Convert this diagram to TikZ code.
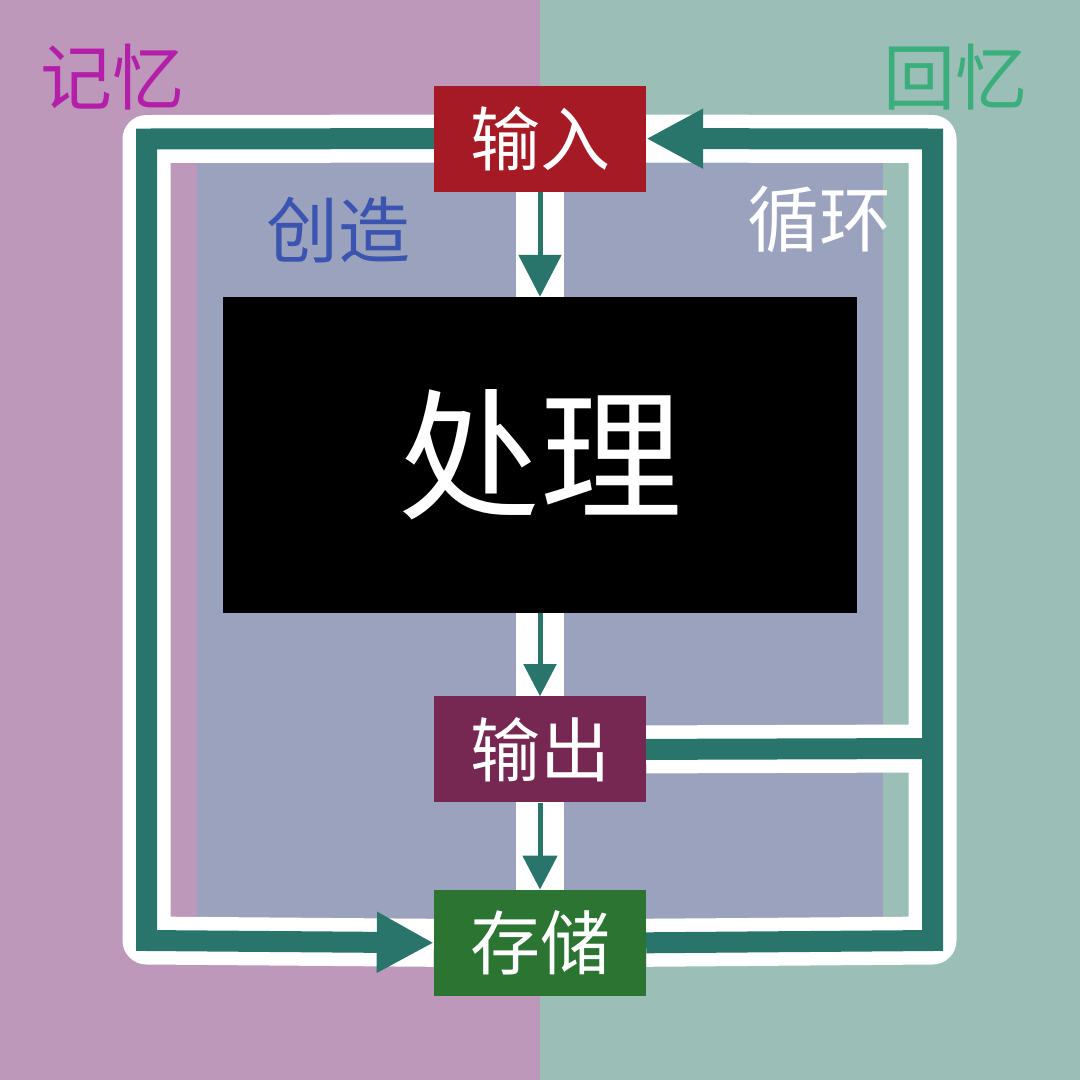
\documentclass[tikz,border=0pt]{standalone}
\usepackage{fontspec}
\newfontfamily\cjk{Noto Sans CJK SC}
\usepackage{tikz}
\usetikzlibrary{positioning}
\usetikzlibrary{arrows.meta}
\usetikzlibrary{backgrounds}
\usepackage{xcolor}
\definecolor{leftbg}{HTML}{BE98BA}
\definecolor{rightbg}{HTML}{9BBEB6}
\definecolor{innerbg}{HTML}{9BA2BE}
\definecolor{loopteal}{HTML}{29756C}
\definecolor{inred}{HTML}{A51A24}
\definecolor{outpurple}{HTML}{762852}
\definecolor{storegreen}{HTML}{2C7431}
\definecolor{memcol}{HTML}{B31FA8}
\definecolor{recallcol}{HTML}{3AAF7D}
\definecolor{createcol}{HTML}{3A54B0}

\begin{document}
\begin{tikzpicture}[x=1pt, y=-1pt,
	box/.style={minimum width=212pt, minimum height=106pt, inner sep=0pt, text=white, font={\cjk\fontsize{70pt}{70pt}\selectfont}},
	halo/.style={white, line width=48pt, line join=round},
	loopline/.style={loopteal, line width=21pt},
	flow/.style={loopteal, line width=5pt},
	tag/.style={inner sep=0pt, font={\cjk\fontsize{72pt}{72pt}\selectfont}}]
			    		\useasboundingbox (0,0) rectangle (1080,1080);
			    		\node[box, fill=black, minimum width=634pt, minimum height=316pt, font={\cjk\fontsize{142pt}{142pt}\selectfont}] (proc) at (540,455) {处理};
			    		\node[box, fill=inred, above=105pt of proc] (in) {输入};
			    		\node[box, fill=outpurple, below=83pt of proc] (out) {输出};
			    		\node[box, fill=storegreen, below=87pt of out] (store) {存储};
			    		\coordinate (tl) at (146.5,139);
			    		\coordinate (bl) at (146.5,940.5);
			    		\coordinate (tr) at (932.5,139);
			    		\coordinate (br) at (932.5,940.5);
			    		\coordinate (mr) at (932.5,748.5);
			    		\begin{scope}[on background layer]
			    			\fill[leftbg] (0,0) rectangle (540,1080);
			    			\fill[rightbg] (540,0) rectangle (1080,1080);
			    			\fill[innerbg] (197,163) rectangle (883,918);
			    			\draw[halo] (in.west) -- (tl) -- (bl) -- (store.west);
			    			\draw[halo] (store.east) -- (br) -- (tr) -- (in.east);
			    			\draw[halo] (out.east) -- (mr);
			    			\draw[halo] (in.south) -- (store.north);
			    		\end{scope}
			    		% loops
			    		\draw[loopline, -{Triangle[length=57pt, width=57pt]}] (in.west) -- (tl) -- (bl) -- (store.west);
			    		\draw[loopline, -{Triangle[length=57pt, width=56pt]}] (store.east) -- (br) -- (tr) -- (in.east);
			    		\draw[loopline] (out.east) -- (mr);
			    		% flow down the middle
			    		\draw[flow, -{Triangle[length=42pt, width=42pt]}] (in.south) -- (proc.north);
			    		\draw[flow, -{Triangle[length=32pt, width=32pt]}] (proc.south) -- (out.north);
			    		\draw[flow, -{Triangle[length=34pt, width=34pt]}] (out.south) -- (store.north);
			    		% labels
			    		\node[tag, text=memcol] (memory) at (113,77) {记忆};
			    		\node[tag, text=recallcol] (recall) at (955,77) {回忆};
			    		\node[tag, text=createcol] (create) at (338,230) {创造};
			    		\node[tag, text=white] (cycle) at (819,219) {循环};
			    	\end{tikzpicture}
\end{document}
